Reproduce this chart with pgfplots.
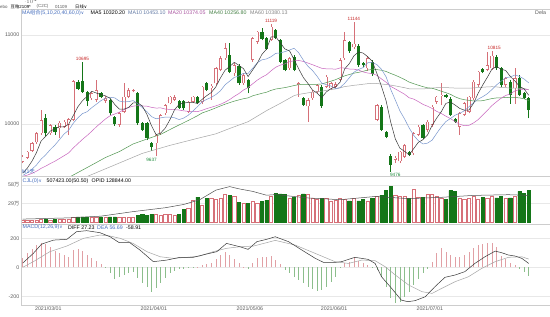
\documentclass[border=0pt]{standalone}
\usepackage{pgfplots}
\pgfplotsset{compat=1.18}
\usepackage{pgfplotstable}
\usepackage{fontspec}
\setmainfont{Liberation Sans}
\newfontfamily\cjk{Noto Sans CJK SC}
\newfontfamily\sym{DejaVu Sans}
\newcommand\fs{\fontsize{5.3}{6}\selectfont}
\newcommand\fss{\fontsize{4.7}{5}\selectfont}
\newcommand\fst{\fontsize{4.4}{5}\selectfont}
\newcommand\dd{{\sym\fontsize{4.5}{5}\selectfont ∨}}
\definecolor{upc}{RGB}{214,112,120}
\definecolor{dnc}{RGB}{20,118,24}
\definecolor{ma5}{RGB}{55,55,55}
\definecolor{ma10}{RGB}{120,150,205}
\definecolor{ma20}{RGB}{200,100,190}
\definecolor{ma40}{RGB}{80,150,80}
\definecolor{ma60}{RGB}{165,165,165}
\definecolor{gridc}{RGB}{232,232,232}
\definecolor{borderc}{RGB}{205,205,205}
\definecolor{lblc}{RGB}{90,90,90}
\definecolor{bluet}{RGB}{70,110,190}
\definecolor{histup}{RGB}{225,160,165}
\definecolor{histdn}{RGB}{140,190,140}
\definecolor{hilab}{RGB}{200,40,40}
\definecolor{lolab}{RGB}{30,140,60}
\definecolor{opc}{RGB}{80,80,80}

\pgfplotstableread{
i O H L C V
0 9577 9650 9560 9633 2
1 9622 9700 9610 9689 2
2 9697 9800 9690 9783 3
3 9794 9910 9780 9895 3
4 9895 10157 9880 10045 4
6 9895 10000 9880 9989 3
8 9951 10030 9839 10015 4
9 9970 10040 9960 10026 5
10 9989 10070 9876 10052 5
11 10045 10490 10030 10483 7
15 10288 10360 10270 10344 7
16 10269 10494 10250 10382 8
18 10260 10310 10240 10290 8
21 9989 10130 9970 10120 7
22 10138 10457 10120 10307 8
23 10307 10400 10290 10382 8
24 10368 10395 10355 10380 8
29 9783 9890 9637 9876 12
30 9895 10110 9880 10101 11
31 10120 10230 10100 10213 12
32 10232 10320 10220 10307 12
33 10270 10330 10260 10300 11
36 10138 10260 10120 10250 21
37 10250 10320 10240 10307 34
39 10250 10430 10220 10420 27
41 10400 10450 10270 10430 37
42 10457 10640 10440 10625 36
43 10607 10760 10590 10738 37
44 10738 10906 10720 10850 43
46 10570 10680 10540 10663 40
48 10457 10570 10440 10550 30
50 10720 10980 10700 10962 33
51 10925 11050 10900 11037 30
54 10943 11119 10930 11093 40
58 10625 10750 10610 10738 38
60 10440 10470 10307 10457 42
62 10200 10290 10026 10270 43
63 10288 10380 10270 10363 37
64 10363 10450 10350 10438 35
66 10420 10550 10400 10530 37
67 10400 10470 10380 10457 33
68 10420 10470 10400 10450 34
69 10494 10740 10480 10719 38
70 10738 11037 10720 10943 36
72 10860 11144 10840 10900 37
75 10625 10760 10600 10738 32
77 10050 10230 10030 10213 40
81 9600 9640 9560 9620 42
82 9580 9700 9560 9689 40
83 9633 9780 9620 9764 40
85 9670 9910 9650 9895 52
86 9876 9990 9860 9970 39
88 9932 10040 9910 10026 43
89 9989 10210 9970 10195 43
90 10250 10320 10230 10307 40
91 10315 10457 10210 10330 38
95 9970 10130 9876 10120 38
96 10101 10250 10090 10232 36
97 10138 10320 10120 10307 37
98 10288 10490 10270 10475 40
99 10438 10600 10420 10588 36
101 10607 10812 10590 10663 38
102 10625 10815 10610 10767 41
105 10438 10530 10420 10513 38
107 10400 10625 10230 10513 40
}\up

\pgfplotstableread{
i O H L C V
5 10071 10110 9870 9895 4
7 9970 9990 9880 9906 4
12 10468 10500 10380 10393 8
13 10487 10695 10350 10363 8
14 10363 10370 10200 10258 8
17 10344 10355 10290 10307 8
19 10269 10280 10100 10120 8
20 10082 10090 9980 10000 8
25 10344 10360 9990 10007 11
26 10007 10020 9920 9932 12
27 10007 10020 9820 9839 11
28 9783 9800 9700 9745 12
34 10258 10270 10170 10183 12
35 10258 10270 10160 10176 20
38 10307 10320 10220 10232 39
40 10457 10470 10370 10382 37
45 10775 10906 10570 10588 42
47 10655 10670 10440 10457 31
49 10494 10510 10345 10408 29
52 11030 11080 10940 10955 32
53 10962 10980 10830 10843 34
55 11055 11070 10950 10970 45
56 10943 10960 10680 10700 44
57 10720 10730 10590 10607 43
59 10756 10770 10590 10607 39
61 10288 10300 10200 10213 44
65 10420 10440 10180 10200 37
71 10918 10930 10800 10820 33
73 10880 10900 10640 10663 33
74 10690 10700 10640 10660 36
76 10694 10720 10540 10560 37
78 10195 10210 9920 9933 42
79 9914 9920 9840 9858 50
80 9644 9660 9464 9540 56
84 9689 9700 9640 9652 37
87 9989 10000 9830 9839 39
92 10330 10340 10290 10300 36
93 10282 10300 10090 10101 49
94 10056 10070 10010 10026 48
100 10618 10630 10570 10588 39
103 10756 10770 10610 10625 38
104 10625 10640 10420 10438 40
106 10475 10490 10230 10325 38
108 10513 10550 10310 10325 48
109 10344 10360 10280 10295 45
110 10288 10300 10063 10157 50
}\dn

\pgfplotstableread{
i m5 m10 m20
0 9447 9423 9412
1 9504 9452 9426
2 9581 9491 9445
3 9680 9540 9470
4 9809 9605 9502
5 9861 9654 9527
6 9921 9713 9556
7 9946 9764 9582
8 9970 9825 9613
9 9966 9888 9644
10 9998 9930 9676
11 10096 10009 9731
12 10194 10070 9780
13 10263 10117 9828
14 10310 10138 9871
15 10368 10183 9918
16 10348 10222 9968
17 10331 10262 10013
18 10316 10290 10057
19 10289 10299 10093
20 10220 10294 10112
21 10167 10258 10133
22 10167 10249 10160
23 10186 10251 10184
24 10238 10263 10201
25 10239 10230 10206
26 10202 10185 10203
27 10108 10138 10200
28 9981 10083 10187
29 9880 10059 10179
30 9899 10069 10181
31 9955 10078 10168
32 10048 10078 10164
33 10159 10070 10161
34 10221 10050 10157
35 10236 10067 10148
36 10243 10099 10142
37 10243 10146 10142
38 10230 10195 10139
39 10277 10249 10154
40 10318 10277 10173
41 10354 10299 10188
42 10418 10331 10204
43 10519 10374 10222
44 10605 10441 10246
45 10646 10482 10275
46 10693 10524 10311
47 10659 10539 10342
48 10622 10570 10382
49 10533 10569 10409
50 10608 10627 10452
51 10683 10688 10493
52 10782 10721 10526
53 10841 10731 10553
54 10978 10756 10598
55 10980 10794 10638
56 10912 10798 10661
57 10843 10813 10676
58 10822 10831 10701
59 10724 10851 10710
60 10620 10800 10714
61 10523 10718 10703
62 10456 10649 10685
63 10381 10601 10666
64 10347 10536 10646
65 10297 10459 10626
66 10360 10442 10620
67 10398 10427 10620
68 10415 10398 10615
69 10471 10409 10630
70 10620 10458 10629
71 10678 10519 10618
72 10766 10582 10616
73 10809 10612 10607
74 10797 10634 10585
75 10756 10688 10573
76 10704 10691 10566
77 10567 10667 10547
78 10421 10615 10506
79 10260 10529 10469
80 10021 10389 10423
81 9833 10269 10394
82 9728 10147 10365
83 9694 10058 10335
84 9653 9957 10295
85 9724 9872 10280
86 9794 9813 10252
87 9824 9776 10221
88 9876 9785 10200
89 9985 9819 10174
90 10067 9896 10142
91 10139 9967 10118
92 10232 10028 10088
93 10247 10062 10060
94 10213 10099 10028
95 10175 10121 9997
96 10156 10148 9981
97 10157 10194 9985
98 10232 10239 10012
99 10344 10279 10049
100 10438 10307 10101
101 10524 10340 10153
102 10616 10387 10207
103 10646 10439 10250
104 10616 10480 10290
105 10601 10520 10321
106 10534 10529 10338
107 10483 10550 10372
108 10423 10535 10387
109 10394 10505 10392
110 10323 10462 10384
}\mas

\pgfplotstableread{
i v
0 9211
3 9255
6 9313
9 9372
12 9455
15 9539
18 9624
21 9690
24 9776
27 9831
30 9884
33 9964
36 10040
38 10093
39 10124
40 10142
41 10161
42 10182
43 10203
44 10223
45 10240
46 10257
47 10271
48 10284
49 10294
50 10317
51 10331
52 10345
53 10357
54 10378
55 10393
56 10401
57 10409
58 10420
59 10432
60 10443
61 10446
62 10445
63 10444
64 10446
65 10450
66 10465
67 10481
68 10498
69 10520
70 10541
71 10556
72 10571
73 10580
74 10592
75 10606
76 10613
77 10611
78 10604
79 10590
80 10568
81 10548
82 10525
83 10500
84 10471
85 10453
86 10436
87 10420
88 10407
89 10402
90 10386
91 10368
92 10352
93 10333
94 10306
95 10285
96 10273
97 10266
98 10259
99 10259
100 10262
101 10274
102 10286
103 10293
104 10293
105 10300
106 10295
107 10297
108 10294
109 10283
110 10263
}\mafo

\pgfplotstableread{
i v
0 9200
6 9290
13 9389
20 9540
26 9670
32 9760
38 9839
42 9890
45 9950
49 10026
53 10150
56 10232
59 10319
60 10333
61 10341
62 10350
63 10357
64 10364
65 10369
66 10378
67 10387
68 10394
69 10406
70 10421
71 10427
72 10435
73 10440
74 10447
75 10453
76 10456
77 10455
78 10449
79 10444
80 10437
81 10428
82 10418
83 10408
84 10396
85 10394
86 10394
87 10394
88 10399
89 10404
90 10408
91 10410
92 10410
93 10406
94 10404
95 10403
96 10402
97 10402
98 10406
99 10409
100 10413
101 10417
102 10419
103 10417
104 10410
105 10409
106 10403
107 10404
108 10401
109 10399
110 10385
}\masi

\pgfplotstableread{
i v
0 4.6
10 6.5
17 9.2
24 16.3
31 22.4
35 27.5
38.5 35
42 50
45 55.5
47 52
50 48
53 42
55 43
62 37.7
69 35
76.6 40
84 36.6
91 38.7
98 41.7
105.6 42.8
110 41.7
}\opid

\pgfplotstableread{
i M
0 62
1 96
2 124
3 154
4 170
5 161
6 142
7 115
8 101
9 85
10 73
11 119
12 124
13 115
14 85
15 62
16 46
17 23
18 -5
19 -42
20 -83
21 -65
22 -53
23 -42
24 -30
25 -76
26 -111
27 -138
28 -168
29 -145
30 -111
31 -76
32 -42
33 -23
34 -14
35 -9
36 -7
37 -3
38 3
39 16
40 23
41 27
42 55
43 85
44 108
45 85
46 55
47 27
48 3
49 -14
50 27
51 62
52 69
53 73
54 78
55 50
56 20
57 -19
58 -42
59 -65
60 -88
61 -111
62 -134
63 -152
64 -161
65 -157
66 -134
67 -99
68 -65
69 -5
70 27
71 39
72 69
73 46
74 27
75 16
76 -5
77 -19
78 -65
79 -134
80 -214
81 -244
82 -237
83 -203
84 -168
85 -122
86 -83
87 -42
88 -14
89 39
90 96
91 131
92 108
93 85
94 73
95 73
96 85
97 108
98 131
99 154
100 161
101 165
102 170
103 142
104 78
105 55
106 27
107 18
108 -14
109 -30
110 -59
}\macd

\pgfplotstableread{
i v
0 29
2.3 96
4.1 160
6.7 188
9.6 193
11.7 246
13.9 253
16.8 239
19 211
21 170
23.3 170
25.5 119
28.4 39
31.3 50
34.2 69
37.1 69
40 92
42.2 108
44.3 165
47.2 142
49 124
50.9 177
53 193
54.9 211
57.8 177
60.7 119
63.6 62
65.4 34
67.9 34
69.3 39
72.2 69
75.1 55
76.6 27
78 -65
80.2 -145
82.3 -226
83.7 -237
85.3 -230
87.5 -203
89.6 -134
91.8 -69
94 -53
96.1 -30
98.3 27
100.5 73
102.7 112
104.1 101
105.6 85
107 78
108.5 62
110 27
}\diff

\pgfplotstableread{
i v
0 0
2.3 39
5.9 108
9.6 147
13.2 200
16.8 223
19 216
21.2 200
24 165
27 108
29.9 73
32.8 62
35.7 69
38.5 78
41.4 108
44.3 131
47.2 142
50.2 147
53 170
54.9 186
59.2 154
63.6 96
67.9 39
70.8 27
73.7 50
76.6 46
78.8 4
81 -53
83.9 -122
86.8 -168
89 -180
91.1 -145
94 -99
96.9 -65
99.8 -7
102.7 39
105.6 69
108.5 73
110 57
}\dea

\pgfplotsset{
  panel/.style={
    scale only axis, width=529bp, xmin=-0.37, xmax=114.63,
    axis line style={draw=none},
    xtick=\empty,
    ymajorgrids, grid style={draw=gridc, line width=0.4bp},
    major tick length=0pt,
    ticklabel style={font=\fs, text=lblc},
    yticklabel style={inner sep=1.5bp},
    clip mode=individual,
  },
}

\begin{document}
\begin{tikzpicture}[x=1bp,y=1bp]
\fill[white] (0,0) rectangle (550,316);
\useasboundingbox (0,0) rectangle (550,316);

% ---------- price panel ----------
\begin{axis}[panel, at={(21bp,140bp)}, anchor=south west, height=167bp,
  ymin=9416, ymax=11292, ytick={10000,11000}, yticklabels={10000,11000}]
\addplot[quiver={u=0,v=\thisrow{H}-\thisrow{L}}, draw=upc, line width=0.6bp, mark=none] table[x=i,y=L]{\up};
\addplot[quiver={u=0,v=\thisrow{H}-\thisrow{L}}, draw=dnc, line width=0.6bp, mark=none] table[x=i,y=L]{\dn};
\addplot[quiver={u=0,v=\thisrow{C}-\thisrow{O}}, draw=upc, line width=3.2bp, mark=none] table[x=i,y=O]{\up};
\addplot[quiver={u=0,v={max(\thisrow{C}-\thisrow{O}-13,0)}}, draw=white, line width=1.8bp, mark=none] table[x=i,y expr=\thisrow{O}+6.5]{\up};
\addplot[quiver={u=0,v=\thisrow{O}-\thisrow{C}}, draw=dnc, line width=3.2bp, mark=none] table[x=i,y=C]{\dn};
\addplot[draw=ma60, line width=0.5bp, mark=none] table[x=i,y=v]{\masi};
\addplot[draw=ma40, line width=0.5bp, mark=none] table[x=i,y=v]{\mafo};
\addplot[draw=ma20, line width=0.5bp, mark=none] table[x=i,y=m20]{\mas};
\addplot[draw=ma10, line width=0.5bp, mark=none] table[x=i,y=m10]{\mas};
\addplot[draw=ma5, line width=0.5bp, mark=none] table[x=i,y=m5]{\mas};
\node[font=\fss, text=hilab, anchor=south, inner sep=1bp] at (axis cs:13,10700) {10695};
\node[font=\fss, text=lolab, anchor=north, inner sep=1bp] at (axis cs:28,9630) {9637};
\node[font=\fss, text=hilab, anchor=south, inner sep=1bp] at (axis cs:54,11125) {11119};
\node[font=\fss, text=hilab, anchor=south, inner sep=1bp] at (axis cs:72,11150) {11144};
\node[font=\fss, text=lolab, anchor=north, inner sep=1bp] at (axis cs:81,9462) {9476};
\node[font=\fss, text=hilab, anchor=south, inner sep=1bp] at (axis cs:102.5,10822) {10815};
\end{axis}

% ---------- volume panel ----------
\begin{axis}[panel, at={(21bp,92bp)}, anchor=south west, height=48bp,
  ymin=-3.1, ymax=72.1, ytick={29,58}, yticklabels={29{\cjk 万},58{\cjk 万}}]
\addplot[ybar, bar width=3.2bp, bar shift=0pt, draw=upc, fill=white, line width=0.5bp] table[x=i,y=V]{\up};
\addplot[ybar, bar width=3.2bp, bar shift=0pt, draw=dnc, fill=dnc, line width=0.5bp] table[x=i,y=V]{\dn};
\addplot[draw=opc, line width=0.5bp, mark=none] table[x=i,y=v]{\opid};
\end{axis}

% ---------- MACD panel ----------
\begin{axis}[panel, at={(21bp,11bp)}, anchor=south west, height=81bp,
  ymin=-260, ymax=299, ytick={-200,0,200}, yticklabels={-200,0,200},
  xtick={5.57,28.5,49.4,67.7,88.5},
  xticklabels={2021/03/01,2021/04/01,2021/05/06,2021/06/01,2021/07/01},
  xticklabel style={inner sep=1bp}]
\addplot[ycomb, draw=histup, line width=0.8bp, mark=none, restrict y to domain=0:1000] table[x=i,y=M]{\macd};
\addplot[ycomb, draw=histdn, line width=0.8bp, mark=none, restrict y to domain=-1000:0] table[x=i,y=M]{\macd};
\addplot[draw=ma60, line width=0.5bp, mark=none] table[x=i,y=v]{\dea};
\addplot[draw=ma5, line width=0.5bp, mark=none] table[x=i,y=v]{\diff};
\end{axis}

% ---------- panel frame lines ----------
\draw[borderc, line width=0.4bp] (21,307) -- (550,307);
\draw[borderc, line width=0.4bp] (21,140) -- (550,140);
\draw[borderc, line width=0.4bp] (21,92) -- (550,92);
\draw[borderc, line width=0.4bp] (21,11) -- (550,11);
\draw[borderc, line width=0.4bp] (21,11) -- (21,307);

% ---------- header texts ----------
\node[anchor=west, inner sep=0, font=\fst, text=lblc] at (0,309.5) {ebo};
\node[anchor=west, inner sep=0, font=\fst, text=black] at (10.5,309.5) {{\cjk 豆粕}2109*};
\node[anchor=west, inner sep=0, font=\fst, text=lblc] at (36.5,309.5) {(C2C)};
\node[anchor=west, inner sep=0, font=\fst, text=lblc] at (55,309.5) {01109};
\node[anchor=west, inner sep=0, font=\fst, text=black] at (75,309.5) {{\cjk 日线}\dd};
\node[anchor=west, inner sep=0, font=\fs, text=bluet] at (22,303) {MA{\cjk 组合}(5,10,20,40,60,0)\dd};
\node[anchor=west, inner sep=0, font=\fs, text=black] at (90.5,303) {MA5 10320.20};
\node[anchor=west, inner sep=0, font=\fs, text=ma10!80!black] at (128,303) {MA10 10453.10};
\node[anchor=west, inner sep=0, font=\fs, text=ma20!85!black] at (168,303) {MA20 10374.05};
\node[anchor=west, inner sep=0, font=\fs, text=ma40!85!black] at (209,303) {MA40 10256.80};
\node[anchor=west, inner sep=0, font=\fs, text=ma60!80!black] at (250,303) {MA60 10380.13};
\node[anchor=west, inner sep=0, font=\fs, text=lblc] at (535,303) {Dela};
\node[anchor=west, inner sep=0, font=\fs, text=bluet] at (22,144) {M1{\cjk 天}};
\node[anchor=west, inner sep=0, font=\fs, text=bluet] at (22.5,135) {CJL(0)\dd};
\node[anchor=west, inner sep=0, font=\fs, text=black] at (46.5,135) {507423.00(50.50)};
\node[anchor=west, inner sep=0, font=\fs, text=black] at (91.5,135) {OPID 128844.00};
\node[anchor=west, inner sep=0, font=\fs, text=bluet] at (22.5,88.5) {MACD(12,26,9)\dd};
\node[anchor=west, inner sep=0, font=\fs, text=black] at (68,88.5) {DIFF 27.23};
\node[anchor=west, inner sep=0, font=\fs, text=bluet] at (97,88.5) {DEA 56.69};
\node[anchor=west, inner sep=0, font=\fs, text=black] at (126,88.5) {-58.91};
\end{tikzpicture}
\end{document}
